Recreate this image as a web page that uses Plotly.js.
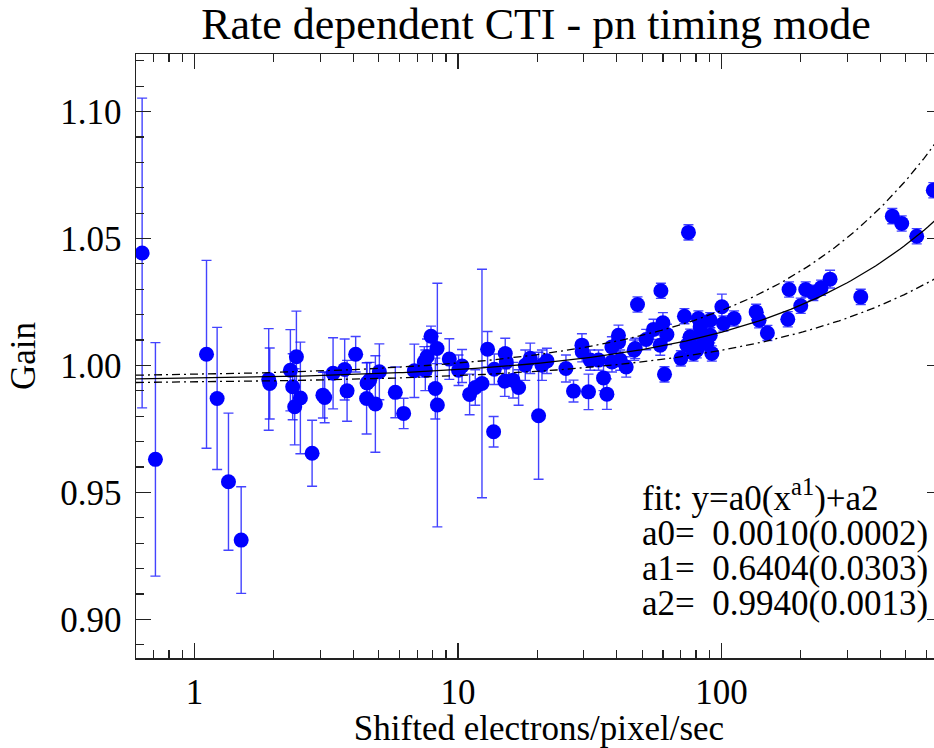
<!DOCTYPE html>
<html>
<head>
<meta charset="utf-8">
<script src="https://cdn.plot.ly/plotly-3.0.1.min.js"></script>
<style>
html,body{margin:0;padding:0;overflow:hidden;background:#fff;width:934px;height:748px;}
#chart{width:943px;height:748px;}
</style>
</head>
<body>
<div id="chart"></div>
<script>
// Shifted electrons/pixel/sec (x) of each measurement
const rate = [0.633,0.711,1.111,1.219,1.346,1.504,1.913,1.930,2.312,2.437,2.359,2.401,2.523,2.795,3.120,3.072,3.357,3.715,3.794,4.090,4.518,4.622,4.50,4.858,5.030,5.783,6.220,6.829,7.516,7.899,8.325,7.628,7.451,8.202,8.35,9.269,10.36,10.05,11.07,11.63,12.33,12.95,13.65,13.73,15.11,15.25,15.05,16.17,16.98,18.00,18.80,20.22,20.83,21.75,25.68,27.44,29.53,29.6,31.28,31.75,34.14,35.66,36.73,38.37,40.64,40.7,38.4,41.26,43.48,46.63,47.99,51.78,55.19,58.88,59.92,62.05,58.53,60.76,47.03,70.09,72.33,74.90,76.01,77.15,80.55,81.69,82.97,90.55,90.6,91.88,100.3,101.7,111.6,85.40,135.3,138.8,149.3,180.4,178.4,199.8,208.7,223.1,238.6,258.1,337.6,444.7,482.8,550.4,636.3,73.9,78.3,88.0,83.0];
// Gain of each measurement
const gain = [1.0443,0.9630,1.0044,0.9870,0.9542,0.9312,0.9945,0.9929,0.9981,1.0034,0.9916,0.9837,0.9872,0.9654,0.9874,0.9883,0.9969,0.9984,0.9900,1.0044,0.9931,0.9942,0.9870,0.9848,0.9975,0.9894,0.9811,0.9979,0.9981,1.0115,1.0067,1.0034,1.0014,0.9909,0.9844,1.0025,0.9998,0.9981,0.9886,0.9913,0.9929,1.0064,0.9739,0.9985,1.0047,1.0014,0.9938,0.9942,0.9913,1.0001,1.0028,0.9802,1.0001,1.0018,0.9988,0.9899,1.0080,1.0054,0.9896,1.0021,1.0021,0.9951,0.9887,1.0073,1.0119,1.0093,1.0014,1.0021,0.9994,1.0060,1.0240,1.0102,1.0142,1.0294,1.0168,1.0122,1.0080,0.9965,1.0067,1.0028,1.0194,1.0524,1.0113,1.0073,1.0060,1.0185,1.0152,1.0178,1.0119,1.0047,1.0231,1.0165,1.0185,1.0093,1.0211,1.0178,1.0128,1.0299,1.0182,1.0235,1.0299,1.0286,1.0306,1.0340,1.0270,1.0588,1.0559,1.0509,1.0690,1.0080,1.0047,1.0088,1.0123];
// 1-sigma error of each gain value
const gainErr = [0.061,0.046,0.037,0.028,0.027,0.021,0.020,0.014,0.016,0.018,0.013,0.015,0.022,0.013,0.010,0.009,0.014,0.012,0.012,0.007,0.008,0.007,0.014,0.019,0.011,0.010,0.006,0.0105,0.008,0.004,0.006,0.007,0.006,0.012,0.048,0.008,0.0065,0.006,0.008,0.007,0.045,0.007,0.006,0.006,0.006,0.005,0.006,0.007,0.007,0.006,0.006,0.025,0.006,0.005,0.0053,0.0043,0.0045,0.004,0.007,0.004,0.004,0.005,0.006,0.004,0.004,0.004,0.004,0.004,0.004,0.004,0.003,0.004,0.004,0.003,0.004,0.004,0.004,0.003,0.004,0.003,0.003,0.003,0.003,0.003,0.003,0.003,0.003,0.003,0.003,0.003,0.005,0.003,0.003,0.003,0.003,0.003,0.003,0.003,0.003,0.003,0.003,0.003,0.003,0.0035,0.003,0.003,0.003,0.003,0.003,0.003,0.003,0.003,0.003];

// Fit y = a0*(x^a1) + a2 : parameters and their errors, as printed on the chart
const fitNames = ['a0','a1','a2'];
const fitParams = [0.0010, 0.6404, 0.9940];
const fitErrors = [0.0002, 0.0303, 0.0013];

const xTickVals = [1, 10, 100];
const xTickText = ['1', '10', '100'];
const yTickVals = [0.90, 0.95, 1.00, 1.05, 1.10];
const yTickText = ['0.90', '0.95', '1.00', '1.05', '1.10'];
const xMinorVals = [0.6,0.7,0.8,0.9,2,3,4,5,6,7,8,9,20,30,40,50,60,70,80,90,200,300,400,500,600,700];
const yMinorVals = [0.89,0.91,0.92,0.93,0.94,0.96,0.97,0.98,0.99,1.01,1.02,1.03,1.04,1.06,1.07,1.08,1.09,1.11,1.12];

// model curves evaluated from the printed fit parameters
const curveX = [];
for (let i = 0; i <= 200; i++) curveX.push(Math.pow(10, Math.log10(0.6) + i * (Math.log10(700) - Math.log10(0.6)) / 200));
function model(a0, a1, a2) { return curveX.map(x => a0 * Math.pow(x, a1) + a2); }
const fitY = model(fitParams[0], fitParams[1], fitParams[2]);
const upY = model(fitParams[0] + fitErrors[0], fitParams[1] + fitErrors[1], fitParams[2] + fitErrors[2]);
const loY = model(fitParams[0] - fitErrors[0], fitParams[1] - fitErrors[1], fitParams[2] - fitErrors[2]);

const serif = 'Liberation Serif, Times New Roman, serif';
const axColor = '#222';

const traces = [
  {
    type: 'scatter', mode: 'markers', x: rate, y: gain,
    marker: {color: '#0000ff', size: 15},
    error_y: {type: 'data', array: gainErr, visible: true, color: 'rgba(20,20,255,0.8)', thickness: 1.4, width: 5},
    hoverinfo: 'x+y', showlegend: false
  },
  {type: 'scatter', mode: 'lines', x: curveX, y: fitY, line: {color: '#000', width: 1.3}, showlegend: false, hoverinfo: 'skip'},
  {type: 'scatter', mode: 'lines', x: curveX, y: upY, line: {color: '#000', width: 1.3, dash: '8px,4px,2px,4px'}, showlegend: false, hoverinfo: 'skip'},
  {type: 'scatter', mode: 'lines', x: curveX, y: loY, line: {color: '#000', width: 1.3, dash: '8px,4px,2px,4px'}, showlegend: false, hoverinfo: 'skip'}
];

function fmt(v) { return v.toFixed(4); }
const textLines = ['fit: y=a0(x<sup>a1</sup>)+a2'];
for (let i = 0; i < 3; i++) textLines.push(fitNames[i] + '=\u00a0\u00a0' + fmt(fitParams[i]) + '(' + fmt(fitErrors[i]) + ')');
const lineY = [0.269, 0.2055, 0.1475, 0.0895];
const annotations = textLines.map((t, i) => ({
  text: t, xref: 'paper', yref: 'paper', x: 0.6253, y: lineY[i],
  xanchor: 'left', yanchor: 'middle', showarrow: false,
  font: {family: serif, size: 35, color: '#000'}
}));

const layout = {
  width: 943, height: 748,
  margin: {l: 136, r: 1, t: 54, b: 90},
  paper_bgcolor: '#fff', plot_bgcolor: '#fff',
  showlegend: false,
  title: {text: 'Rate dependent CTI - pn timing mode', font: {family: serif, size: 44, color: '#000'},
          xref: 'paper', x: 0.4963, xanchor: 'center', yref: 'container', y: 0.968, yanchor: 'middle'},
  xaxis: {
    type: 'log', range: [Math.log10(0.6), 2.8366],
    tickmode: 'array', tickvals: xTickVals, ticktext: xTickText,
    ticks: 'inside', ticklen: 15, tickwidth: 1.3, tickcolor: axColor,
    showline: true, linecolor: axColor, linewidth: 1.5, mirror: 'ticks',
    showgrid: false, zeroline: false,
    tickfont: {family: serif, size: 35, color: '#000'},
    ticklabelstandoff: 2,
    minor: {tickmode: 'array', tickvals: xMinorVals, ticks: 'inside', ticklen: 8, tickwidth: 1.2, tickcolor: axColor, showgrid: false},
    title: {text: 'Shifted electrons/pixel/sec', font: {family: serif, size: 35, color: '#000'}, standoff: 11}
  },
  yaxis: {
    range: [0.88476, 1.12268],
    tickmode: 'array', tickvals: yTickVals, ticktext: yTickText,
    ticks: 'inside', ticklen: 15, tickwidth: 1.3, tickcolor: axColor,
    showline: true, linecolor: axColor, linewidth: 1.5, mirror: 'ticks',
    showgrid: false, zeroline: false,
    tickfont: {family: serif, size: 35, color: '#000'},
    ticklabelstandoff: 6,
    minor: {tickmode: 'array', tickvals: yMinorVals, ticks: 'inside', ticklen: 8, tickwidth: 1.2, tickcolor: axColor, showgrid: false},
    title: {text: 'Gain', font: {family: serif, size: 35, color: '#000'}, standoff: 14}
  },
  annotations: annotations
};

Plotly.newPlot('chart', traces, layout, {displayModeBar: false, staticPlot: true});
</script>
</body>
</html>
